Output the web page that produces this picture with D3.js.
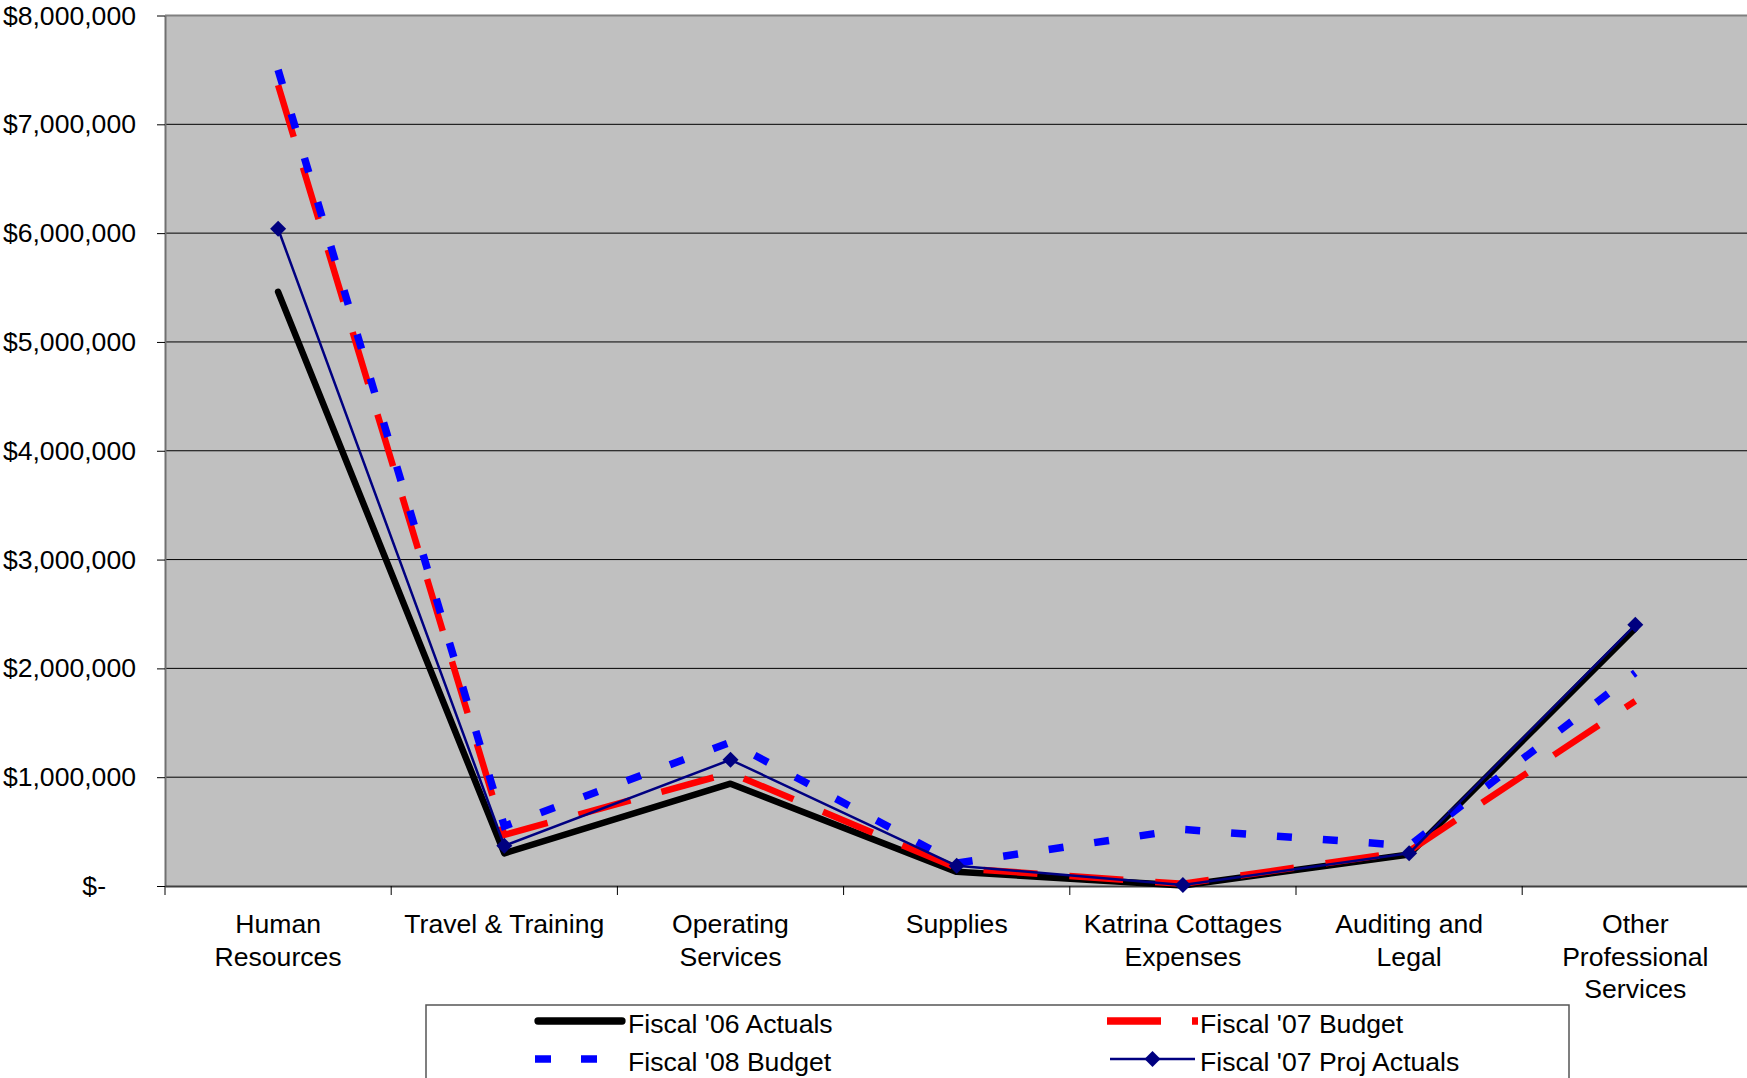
<!DOCTYPE html>
<html><head><meta charset="utf-8">
<script src="https://cdn.jsdelivr.net/npm/d3@7"></script>
<style>
html,body{margin:0;padding:0;background:#fff;}
svg{display:block;font-family:"Liberation Sans",Arial,sans-serif;}
</style>
</head><body>
<svg id="c" width="1747" height="1078"></svg>
<script>
// ---- data ----
const categories = ["Human Resources", "Travel & Training", "Operating Services", "Supplies",
  "Katrina Cottages Expenses", "Auditing and Legal", "Other Professional Services"];
const categoryLabelLines = [["Human", "Resources"], ["Travel & Training"], ["Operating", "Services"],
  ["Supplies"], ["Katrina Cottages", "Expenses"], ["Auditing and", "Legal"], ["Other", "Professional", "Services"]];

const fy06Actuals     = [5460000, 300000,  940000, 130000,   5000, 290000, 2370000];
const fy07Budget      = [7360000, 470000, 1040000, 165000,  20000, 320000, 1700000];
const fy08Budget      = [7500000, 550000, 1320000, 210000, 520000, 370000, 1960000];
const fy07ProjActuals = [6040000, 370000, 1160000, 185000,  10000, 300000, 2400000];

const seriesNames = ["Fiscal '06 Actuals", "Fiscal '07 Budget", "Fiscal '08 Budget", "Fiscal '07 Proj Actuals"];

const yTickValues = [0, 1000000, 2000000, 3000000, 4000000, 5000000, 6000000, 7000000, 8000000];
const yTickLabels = ["$-", "$1,000,000", "$2,000,000", "$3,000,000", "$4,000,000",
  "$5,000,000", "$6,000,000", "$7,000,000", "$8,000,000"];

// ---- styles ----
const styles = [
  {color: "#000000", width: 6.5, dash: null, cap: "round"},
  {color: "#FF0000", width: 6.5, dash: "54,32", cap: "butt"},
  {color: "#0000FF", width: 7.5, dash: "15,31", cap: "butt"},
  {color: "#000080", width: 2.5, dash: null, cap: "butt", marker: true}
];
const seriesData = [fy06Actuals, fy07Budget, fy08Budget, fy07ProjActuals];

const svg = d3.select("#c");
const P = {left: 165, top: 15.5, right: 1748.4, bottom: 886};
const FS = 26.6;

const x = d3.scaleBand().domain(categories).range([P.left, P.right]).padding(0);
const y = d3.scaleLinear().domain([0, 8000000]).range([P.bottom, P.top]);
const cx = i => x(categories[i]) + x.bandwidth() / 2;

// plot area
svg.append("rect").attr("x", P.left).attr("y", P.top).attr("width", 1800 - P.left)
  .attr("height", P.bottom - P.top).attr("fill", "#C0C0C0");

// gridlines
svg.append("g").selectAll("line").data(yTickValues.filter(v => v > 0 && v < 8000000)).join("line")
  .attr("x1", P.left).attr("x2", 1747).attr("y1", d => y(d)).attr("y2", d => y(d))
  .attr("stroke", "#000").attr("stroke-width", 1);
// top border
svg.append("line").attr("x1", P.left).attr("x2", 1747).attr("y1", P.top).attr("y2", P.top)
  .attr("stroke", "#808080").attr("stroke-width", 2);

// y axis
const yAxis = svg.append("g").attr("transform", `translate(${P.left},0)`)
  .call(d3.axisLeft(y).tickValues(yTickValues).tickFormat((d, i) => yTickLabels[i])
    .tickSize(8).tickPadding(21).tickSizeOuter(0));
yAxis.select(".domain").attr("stroke", "#707070").attr("stroke-width", 2);
yAxis.selectAll(".tick line").attr("stroke", "#000");
yAxis.selectAll(".tick text").attr("font-size", FS).attr("fill", "#000")
  .attr("font-family", "'Liberation Sans', Arial, sans-serif")
  .attr("dx", d => d === 0 ? -30 : 0);

// x axis
const xAxis = svg.append("g").attr("transform", `translate(0,${P.bottom})`)
  .call(d3.axisBottom(x).tickSize(0).tickSizeOuter(0).tickFormat(""));
xAxis.select(".domain").attr("stroke", "#404040").attr("stroke-width", 2);
xAxis.selectAll(".tick").each(function(d, i) {
  const t = d3.select(this).append("text").attr("text-anchor", "middle")
    .attr("font-size", FS).attr("fill", "#000")
    .attr("font-family", "'Liberation Sans', Arial, sans-serif");
  categoryLabelLines[i].forEach((ln, j) => {
    t.append("tspan").attr("x", 0).attr("y", 47 + j * 32.5).text(ln);
  });
});
// category boundary ticks
svg.append("g").selectAll("line").data(d3.range(categories.length + 1)).join("line")
  .attr("x1", i => P.left + i * x.step()).attr("x2", i => P.left + i * x.step())
  .attr("y1", P.bottom).attr("y2", P.bottom + 9).attr("stroke", "#000").attr("stroke-width", 1);

// lines
const lineGen = d3.line().x((d, i) => cx(i)).y(d => y(d));
seriesData.forEach((data, k) => {
  const s = styles[k];
  svg.append("path").datum(data).attr("d", lineGen)
    .attr("fill", "none").attr("stroke", s.color).attr("stroke-width", s.width)
    .attr("stroke-dasharray", s.dash).attr("stroke-linecap", s.cap)
    .attr("stroke-linejoin", s.dash ? "miter" : "round");
  if (s.marker) {
    svg.append("g").selectAll("path").data(data).join("path")
      .attr("d", d3.symbol(d3.symbolSquare, 128))
      .attr("transform", (d, i) => `translate(${cx(i)},${y(d)}) rotate(45)`)
      .attr("fill", s.color);
  }
});

// legend
const L = svg.append("g");
L.append("rect").attr("x", 426).attr("y", 1005).attr("width", 1143).attr("height", 120)
  .attr("fill", "#fff").attr("stroke", "#555").attr("stroke-width", 1.5);
const legendPos = [
  {x1: 538, x2: 622, tx: 628, ry: 1021},
  {x1: 1107, x2: 1198, tx: 1200, ry: 1021},
  {x1: 535, x2: 626, tx: 628, ry: 1059},
  {x1: 1110, x2: 1195, tx: 1200, ry: 1059}
];
seriesNames.forEach((name, k) => {
  const s = styles[k], p = legendPos[k];
  L.append("line").attr("x1", p.x1).attr("x2", p.x2).attr("y1", p.ry).attr("y2", p.ry)
    .attr("stroke", s.color).attr("stroke-width", k === 3 ? 2.5 : 7.3)
    .attr("stroke-dasharray", k === 1 ? "54,31" : k === 2 ? "16,30" : null)
    .attr("stroke-linecap", s.cap);
  if (s.marker) {
    L.append("path").attr("d", d3.symbol(d3.symbolSquare, 128)())
      .attr("transform", `translate(${(p.x1 + p.x2) / 2},${p.ry}) rotate(45)`).attr("fill", s.color);
  }
  L.append("text").attr("x", p.tx).attr("y", p.ry + 11.5).attr("font-size", FS)
    .attr("fill", "#000").text(name);
});
</script>
</body></html>
